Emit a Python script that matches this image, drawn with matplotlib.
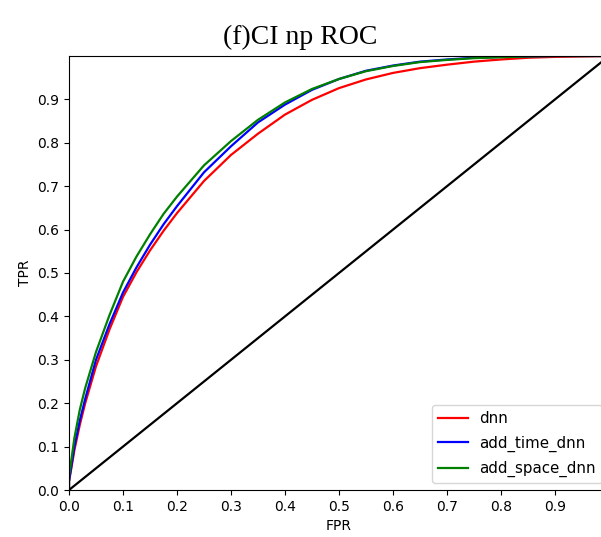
import numpy as np
import matplotlib
matplotlib.use("Agg")
import matplotlib.pyplot as plt

fpr = [0.0, 0.005, 0.01, 0.02, 0.03, 0.05, 0.075, 0.1, 0.125, 0.15, 0.175,
       0.2, 0.25, 0.3, 0.35, 0.4, 0.45, 0.5, 0.55, 0.6, 0.65, 0.7, 0.75,
       0.8, 0.85, 0.9, 0.95, 1.0]

tpr_dnn = [0.02, 0.055, 0.092, 0.15, 0.20, 0.285, 0.37, 0.445, 0.502, 0.552,
           0.597, 0.638, 0.712, 0.772, 0.821, 0.865, 0.899, 0.926, 0.946,
           0.961, 0.972, 0.980, 0.987, 0.992, 0.996, 0.998, 0.999, 1.0]

tpr_time = [0.02, 0.06, 0.10, 0.16, 0.21, 0.30, 0.382, 0.455, 0.513, 0.565,
            0.612, 0.654, 0.732, 0.792, 0.847, 0.888, 0.922, 0.947, 0.966,
            0.978, 0.987, 0.992, 0.996, 0.998, 0.999, 1.0, 1.0, 1.0]

tpr_space = [0.03, 0.075, 0.12, 0.185, 0.235, 0.318, 0.403, 0.48, 0.538, 0.589,
             0.636, 0.676, 0.748, 0.804, 0.853, 0.893, 0.924, 0.947, 0.965,
             0.977, 0.986, 0.991, 0.995, 0.997, 0.999, 1.0, 1.0, 1.0]

diag = [0.0, 1.0]

fig = plt.figure(figsize=(6.01, 5.37), dpi=100)
ax = fig.add_axes([69 / 601, 47 / 537, 540 / 601, 434 / 537])

# the curves start on the y axis at (0, 0)
ax.plot([0.0] + fpr, [0.0] + tpr_dnn, color="red", linewidth=1.6, label="dnn")
ax.plot([0.0] + fpr, [0.0] + tpr_time, color="blue", linewidth=1.6,
        label="add_time_dnn")
ax.plot([0.0] + fpr, [0.0] + tpr_space, color="green", linewidth=1.6,
        label="add_space_dnn")
ax.plot(diag, diag, color="black", linewidth=1.6)

ticks = np.arange(0, 0.95, 0.1)
ax.set_xlim(0, 1)
ax.set_ylim(0, 1)
ax.set_xticks(ticks)
ax.set_yticks(ticks)
ax.set_xticklabels([f"{v:.1f}" for v in ticks])
ax.set_yticklabels([f"{v:.1f}" for v in ticks])
ax.set_xlabel("FPR")
ax.set_ylabel("TPR")
ax.legend(loc="lower right", fontsize=10.8, labelspacing=0.62,
          borderaxespad=0.45)

fig.text(0.5, 1 - 43.5 / 537, "(f)CI np ROC", ha="center", va="baseline",
         fontsize=20, family="Liberation Serif")

fig.savefig("out.png", dpi=100)
